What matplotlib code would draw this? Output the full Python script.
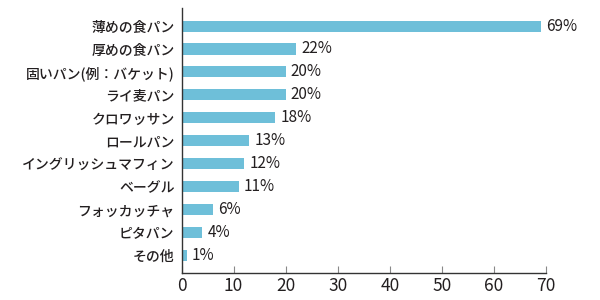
import matplotlib.pyplot as plt

plt.rcParams['font.family'] = ['Noto Sans CJK JP', 'DejaVu Sans']

categories = ['薄めの食パン', '厚めの食パン', '固いパン(例：バケット)', 'ライ麦パン', 'クロワッサン',
              'ロールパン', 'イングリッシュマフィン', 'ベーグル', 'フォッカッチャ', 'ピタパン', 'その他']
values = [69, 22, 20, 20, 18, 13, 12, 11, 6, 4, 1]
xticks = [0, 10, 20, 30, 40, 50, 60, 70]

bar_color = '#6ebfd9'
text_color = '#231f20'

fig = plt.figure(figsize=(6, 3), dpi=100)
ax = fig.add_axes([0.3025, 0.09, 0.6075, 0.883])

pos = list(range(len(categories)))
ax.barh(pos, values, height=0.48, color=bar_color)
for p, v in zip(pos, values):
    ax.text(v + 1.0, p, f'{v}%', va='center', ha='left', fontsize=11, color=text_color)

ax.set_yticks(pos)
ax.set_yticklabels(categories, fontsize=10, color=text_color, fontweight='medium')
ax.set_ylim(10.75, -0.78)
ax.set_xlim(0, 70)
ax.set_xticks(xticks)
ax.set_xticklabels([str(t) for t in xticks], fontsize=12.5, color=text_color)

ax.tick_params(axis='y', length=0, pad=5)
ax.tick_params(axis='x', direction='in', length=5, color='#888888', pad=3)
for s in ['top', 'right']:
    ax.spines[s].set_visible(False)
for s in ['left', 'bottom']:
    ax.spines[s].set_color('#333333')
    ax.spines[s].set_linewidth(1)

fig.savefig('out.png', dpi=100)
